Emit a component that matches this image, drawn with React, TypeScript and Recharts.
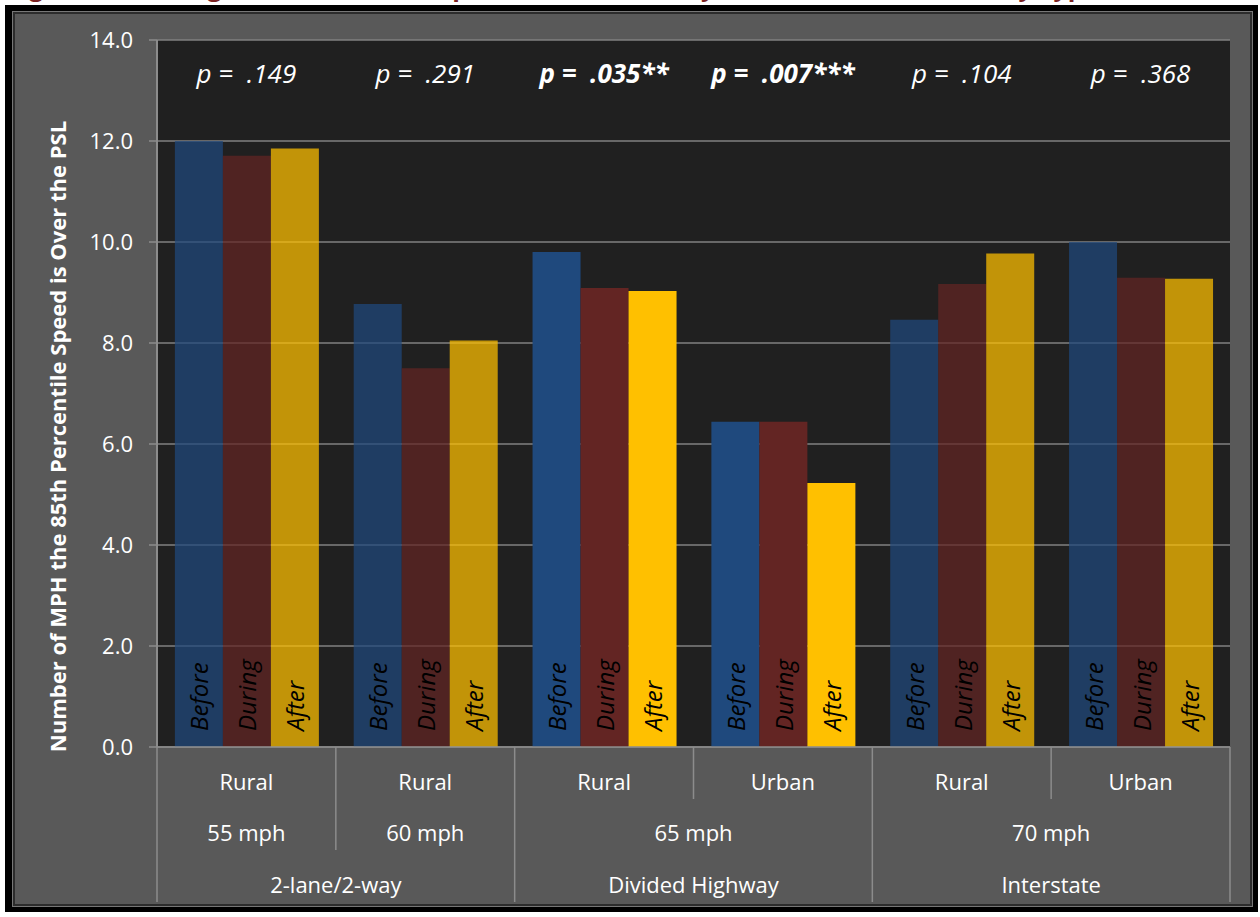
import React from "react";
import { BarChart, Bar, XAxis, YAxis, CartesianGrid, LabelList, Cell, ReferenceDot } from "recharts";

const areas = ["Rural", "Rural", "Rural", "Urban", "Rural", "Urban"];
const limits = ["55 mph", "60 mph", "65 mph", "65 mph", "70 mph", "70 mph"];
const roadTypes = ["2-lane/2-way", "2-lane/2-way", "Divided Highway", "Divided Highway", "Interstate", "Interstate"];
const before = [12.0, 8.77, 9.8, 6.44, 8.46, 10.0];
const during = [11.71, 7.5, 9.09, 6.44, 9.17, 9.29];
const after = [11.85, 8.05, 9.03, 5.23, 9.77, 9.27];
const pValues = [".149", ".291", ".035**", ".007***", ".104", ".368"];
const significant = [false, false, true, true, false, false];
const yTicks = [0, 2, 4, 6, 8, 10, 12, 14];

const data = areas.map((area, i) => ({
  key: `g${i}`,
  area,
  limit: limits[i],
  road: roadTypes[i],
  before: before[i],
  during: during[i],
  after: after[i],
  p: pValues[i],
  sig: significant[i],
}));

const SERIES = [
  { key: "before", name: "Before", color: "#1F497D" },
  { key: "during", name: "During", color: "#632523" },
  { key: "after", name: "After", color: "#FFC000" },
];

const FONT = "'Open Sans', sans-serif";
const W = 1260;
const H = 917;
const MARGIN = { top: 40, right: 30, bottom: 10, left: 77 };
const Y_W = 80;
const X_H = 160;
const PLOT_W = W - MARGIN.left - MARGIN.right - Y_W;
const HALF_BAND = PLOT_W / data.length / 2;
const LINE = "#8c8c8c";

const barLabel = (name: string) => (props: any) => {
  const { x, y, width, height } = props;
  const cx = Number(x) + Number(width) / 2;
  const by = Number(y) + Number(height) - 16;
  return (
    <text x={cx} y={by} transform={`rotate(-90 ${cx} ${by})`} textAnchor="start" dominantBaseline="central"
      fontStyle="italic" fontSize={24} fill="#000" fontFamily={FONT}>
      {name}
    </text>
  );
};

// run length of equal values starting at i
const runLen = (arr: string[], i: number) => {
  let n = 1;
  while (i + n < arr.length && arr[i + n] === arr[i]) n++;
  return n;
};

function GroupTick(props: any) {
  const { x, y, index } = props;
  const i = index as number;
  const left = x - HALF_BAND;
  const txt = { fill: "#fff", fontSize: 22, fontFamily: FONT, textAnchor: "middle" as const, dominantBaseline: "central" as const };
  // how far the left separator drops
  let sepLen = 155;
  if (i > 0) {
    if (roadTypes[i] !== roadTypes[i - 1]) sepLen = 155;
    else if (limits[i] !== limits[i - 1]) sepLen = 103;
    else sepLen = 52;
  }
  const showLimit = i === 0 || limits[i] !== limits[i - 1];
  const showRoad = i === 0 || roadTypes[i] !== roadTypes[i - 1];
  return (
    <g>
      <line x1={left} x2={left} y1={y} y2={y + sepLen} stroke={LINE} strokeWidth={1.5} />
      {i === data.length - 1 && (
        <line x1={x + HALF_BAND} x2={x + HALF_BAND} y1={y} y2={y + 155} stroke={LINE} strokeWidth={1.5} />
      )}
      <text x={x} y={y + 34} {...txt}>{areas[i]}</text>
      {showLimit && (
        <text x={left + runLen(limits, i) * HALF_BAND} y={y + 85} {...txt}>{limits[i]}</text>
      )}
      {showRoad && (
        <text x={left + runLen(roadTypes, i) * HALF_BAND} y={y + 137} {...txt}>{roadTypes[i]}</text>
      )}
    </g>
  );
}

const YLabel = (props: any) => {
  const vb = props.viewBox || {};
  const cx = vb.x - 20;
  const cy = vb.y + vb.height / 2 + 43;
  return (
    <text x={cx} y={cy} transform={`rotate(-90 ${cx} ${cy})`} textAnchor="middle" dominantBaseline="central"
      fill="#fff" fontWeight="bold" fontSize={22} fontFamily={FONT}>
      Number of MPH the 85th Percentile Speed is Over the PSL
    </text>
  );
};

export default function App() {
  return (
    <div style={{ position: "absolute", left: 0, top: 0, width: W, height: H, overflow: "hidden", background: "#fff" }}>
      <div style={{
        position: "absolute", left: 8, top: -29, whiteSpace: "nowrap", color: "#7B2222", fontFamily: FONT,
        fontWeight: "bold", fontSize: 25, lineHeight: "30px",
      }}>
        Figure 12: Average 85th Percentile Speed Over the PSL by Limit, Area and Roadway Type
      </div>
      <div style={{ position: "absolute", left: 5, top: 5, width: 1253, height: 907, background: "#000" }}>
        <div style={{
          position: "absolute", left: 7, top: 6, width: 1241, height: 896, background: "#595959",
          border: "1px solid #777", boxShadow: "inset 0 0 0 2px #2c2c2c", boxSizing: "border-box",
        }} />
      </div>
      <div style={{ position: "absolute", left: 0, top: 0 }}>
        <BarChart width={W} height={H} data={data} margin={MARGIN} barCategoryGap="10%" barGap={0}>
          <CartesianGrid vertical={false} fill="#202020" stroke="#808080" strokeWidth={1.5} />
          <XAxis dataKey="key" height={X_H} interval={0} tickLine={false} tickSize={0} tickMargin={0}
            axisLine={{ stroke: LINE, strokeWidth: 1.5 }} tick={<GroupTick />} />
          <YAxis width={Y_W} domain={[0, 14]} ticks={yTicks} allowDecimals
            tickFormatter={(v: number) => v.toFixed(1)} tickSize={8} tickMargin={16}
            tickLine={{ stroke: LINE, strokeWidth: 1.5 }} axisLine={{ stroke: LINE, strokeWidth: 2 }}
            tick={{ fill: "#fff", fontSize: 22, fontFamily: FONT }} label={YLabel} />
          {SERIES.map((s) => (
            <Bar key={s.key} dataKey={s.key} name={s.name} fill={s.color} isAnimationActive={false}>
              {data.map((d, i) => (
                <Cell key={i} fill={s.color} fillOpacity={d.sig ? 1 : 0.73} />
              ))}
              <LabelList dataKey={s.key} content={barLabel(s.name)} />
            </Bar>
          ))}
          {data.map((d) => (
            <ReferenceDot key={d.key} x={d.key} y={13.35} r={0} isFront
              shape={(p: any) => (
                <text x={p.cx} y={p.cy} textAnchor="middle" dominantBaseline="central" fill="#fff"
                  fontStyle="italic" fontWeight={d.sig ? "bold" : "normal"} fontSize={26} fontFamily={FONT}
                  style={{ whiteSpace: "pre" }}>
                  {`p =  ${d.p}`}
                </text>
              )} />
          ))}
        </BarChart>
      </div>
    </div>
  );
}
